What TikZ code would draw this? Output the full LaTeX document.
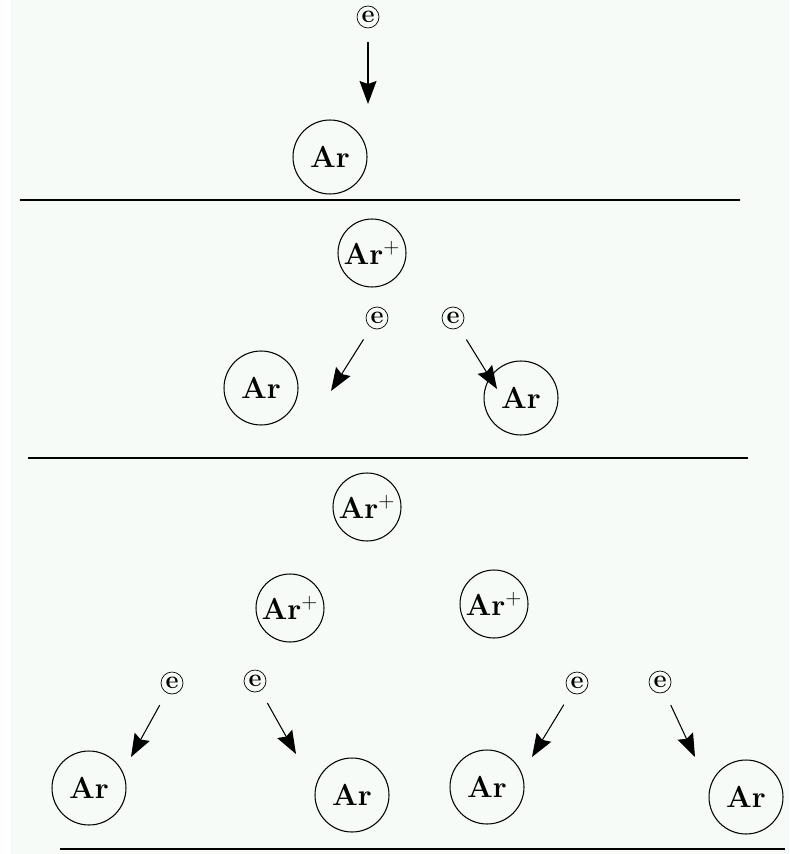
\documentclass[tikz,border=0pt]{standalone}
\usepackage{amsmath, amssymb}
\usepackage{tikz}
\usetikzlibrary{arrows.meta}

\definecolor{paper}{RGB}{247,251,248}

\tikzset{
    atom/.style={draw, circle, semithick, minimum size=1.48cm, inner sep=0pt, font=\LARGE\bfseries},
    ion/.style={atom, minimum size=1.36cm},
    electron/.style={draw, circle, thin, minimum size=0.44cm, inner sep=0pt, font=\Large\bfseries},
    hit/.style={semithick, shorten <=0.28cm, -{Stealth[length=0.46cm, width=0.34cm, inset=0.06cm]}},
    wall/.style={thick}
}

\begin{document}
\begin{tikzpicture}[x=0.02cm, y=-0.02cm]

    % Page and background
    \useasboundingbox (0,0) rectangle (789,854);
    \fill[paper] (11,0) rectangle (789,854);

    % Stage 1: one electron hits one atom
    \node[electron] (e0) at (368,17) {e};
    \coordinate (t0) at (368,104);
    \node[atom] (ar0) at (330,157) {Ar};
    \draw[hit] (e0) -- (t0);

    \coordinate (w1a) at (20,200);
    \coordinate (w1b) at (740,200);
    \draw[wall] (w1a) -- (w1b);

    % Stage 2: ion and two electrons
    \node[ion] (ion1) at (372,253) {Ar$^{\mathbf{+}}$};
    \node[electron] (e1L) at (377,318) {e};
    \node[electron] (e1R) at (453,318) {e};
    \coordinate (t1L) at (331,391);
    \coordinate (t1R) at (497,389);
    \node[atom] (ar1L) at (261,388) {Ar};
    \node[atom] (ar1R) at (521,398) {Ar};
    \draw[hit] (e1L) -- (t1L);
    \draw[hit] (e1R) -- (t1R);

    \coordinate (w2a) at (28,458);
    \coordinate (w2b) at (748,458);
    \draw[wall] (w2a) -- (w2b);

    % Stage 3: three ions and four electrons
    \node[ion] (ion2) at (367,507) {Ar$^{\mathbf{+}}$};
    \node[ion] (ion2L) at (290,608) {Ar$^{\mathbf{+}}$};
    \node[ion] (ion2R) at (494,604) {Ar$^{\mathbf{+}}$};

    \node[electron] (e2a) at (172,683) {e};
    \node[electron] (e2b) at (255,681) {e};
    \node[electron] (e2c) at (577,683) {e};
    \node[electron] (e2d) at (660,682) {e};

    \coordinate (t2a) at (131,757);
    \coordinate (t2b) at (296,754);
    \coordinate (t2c) at (532,757);
    \coordinate (t2d) at (695,757);

    \node[atom] (ar2a) at (89,788) {Ar};
    \node[atom] (ar2b) at (352,795) {Ar};
    \node[atom] (ar2c) at (487,787) {Ar};
    \node[atom] (ar2d) at (746,797) {Ar};

    \foreach \k in {a, b, c, d}
        \draw[hit] (e2\k) -- (t2\k);

    \coordinate (w3a) at (60,849);
    \coordinate (w3b) at (785,849);
    \draw[wall] (w3a) -- (w3b);

\end{tikzpicture}
\end{document}
